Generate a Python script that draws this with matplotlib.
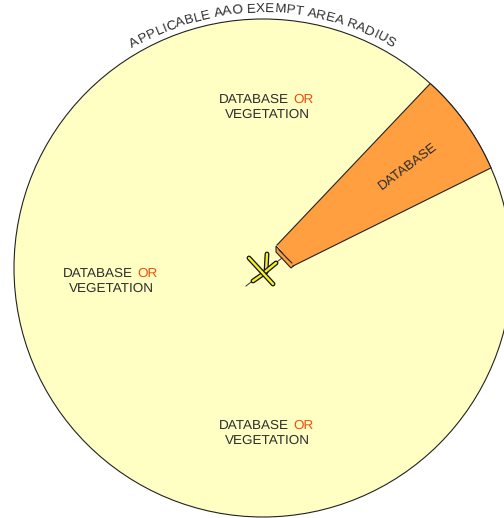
import numpy as np
import matplotlib
matplotlib.use("Agg")
import matplotlib.pyplot as plt
from matplotlib.patches import Circle, Polygon
from matplotlib.textpath import TextPath
from matplotlib.font_manager import FontProperties

plt.rcParams["font.family"] = "Liberation Sans"
plt.rcParams["text.hinting"] = "no_hinting"

center = (263, 268)
radius = 249
curved_label = "APPLICABLE AAO EXEMPT AREA RADIUS"
wedge_inner = [(277, 245), (293, 266)]
wedge_outer_deg = [47.8, 23.7]   # angles of the database sector
zones = [(267, 107), (111, 281), (267, 433)]
word1 = "DATABASE"
word2 = "OR"
word3 = "VEGETATION"
tip_box = [(276, 246), (276, 252), (291, 268), (294, 265.5)]
tip_line = [(279, 250), (292, 263)]
x_strokes = [[(267, 254), (266, 272), (253, 281)], [(265, 272), (276, 263)], [(249, 258), (273, 284)]]
x_wire = [(246, 286), (282, 258)]

text_col = "#2E2E2E"
or_col = "#F0500F"
fs = 9.7

fig = plt.figure(figsize=(5.04, 5.18), dpi=100)
ax = fig.add_axes([0, 0, 1, 1])
ax.set_xlim(0, 504)
ax.set_ylim(518, 0)
ax.axis("off")

ax.add_patch(Circle(center, radius, fc="#FFFFC4", ec="#222222", lw=0.8))

a = np.radians(np.linspace(wedge_outer_deg[0], wedge_outer_deg[1], 30))
arc = np.column_stack([center[0] + radius * np.cos(a), center[1] - radius * np.sin(a)])
ax.add_patch(Polygon(tip_box, closed=True, fc="#FF9F40", ec="#222222", lw=0.8))
pts = np.vstack([[wedge_inner[0]], arc, [wedge_inner[1]]])
ax.add_patch(Polygon(pts, closed=True, fc="#FF9F40", ec="none"))
ax.plot(*zip(*pts), color="#222222", lw=0.8)
ax.plot(*zip(*tip_line), color="#222222", lw=0.7)

ax.plot(*zip(*x_wire), color="#333333", lw=0.7)
for s in x_strokes:
    ax.plot(*zip(*s), color="#111111", lw=3.5, solid_capstyle="round", solid_joinstyle="round")
    ax.plot(*zip(*s), color="#F5F020", lw=1.7, solid_capstyle="round", solid_joinstyle="round")

for zx, zy in zones:
    t = ax.text(zx - 48, zy - 7, word1, fontsize=fs, color=text_col, ha="left", va="center")
    ax.annotate(word2, xy=(1, 0), xycoords=t, xytext=(3.4, 0), textcoords="offset points",
                fontsize=fs, color=or_col, ha="left", va="bottom")
    ax.text(zx, zy + 8, word3, fontsize=fs, color=text_col, ha="center", va="center")

ax.text(408, 166, word1, fontsize=fs, color=text_col, ha="center", va="center",
        rotation=37, rotation_mode="anchor")

# curved label, one character at a time along the rim
fp = FontProperties(family="Liberation Sans", size=fs)
def adv(s):
    return TextPath((0, 0), s + "|", prop=fp).get_extents().width * 100 / 72
widths = [adv(curved_label[:i + 1]) - adv(curved_label[:i]) for i in range(len(curved_label))]
r_text = radius + 4
spread = 1.012
total = sum(widths) * spread
pos = -total / 2
for ch, w in zip(curved_label, widths):
    th = (pos + w * spread / 2) / r_text + np.radians(-0.2)
    x = center[0] + r_text * np.sin(th)
    y = center[1] - r_text * np.cos(th)
    ax.text(x, y, ch, fontsize=fs, color=text_col, ha="center", va="bottom",
            rotation=-np.degrees(th), rotation_mode="anchor")
    pos += w * spread

fig.savefig("out.png", dpi=100)
